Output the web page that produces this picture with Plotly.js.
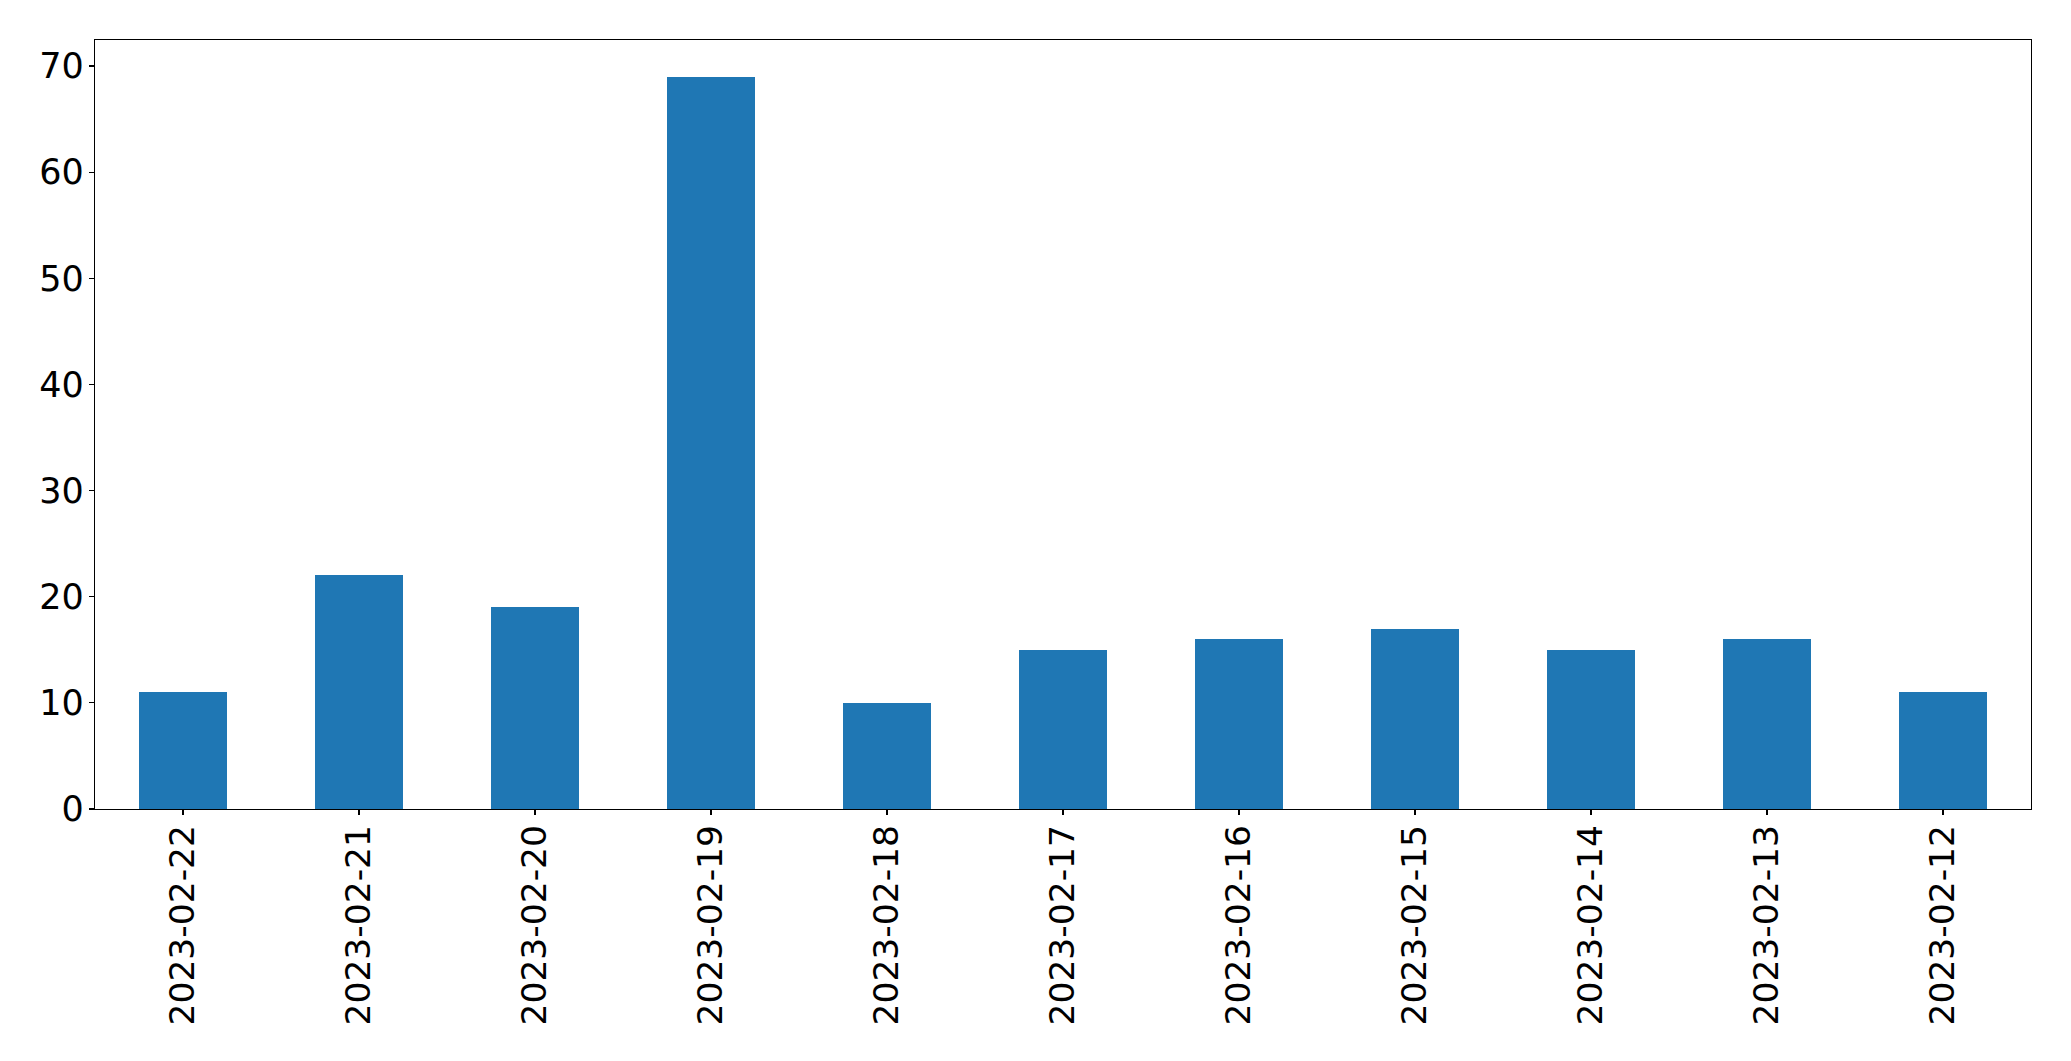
<!DOCTYPE html>
<html>
<head>
<meta charset="utf-8">
<script src="https://cdn.plot.ly/plotly-3.0.1.min.js"></script>
<style>
  html, body { margin: 0; padding: 0; background: #ffffff; }
  #chart { width: 2071px; height: 1061px; }
</style>
</head>
<body>
<div id="chart"></div>
<script>
const dates = ["2023-02-22", "2023-02-21", "2023-02-20", "2023-02-19", "2023-02-18", "2023-02-17",
               "2023-02-16", "2023-02-15", "2023-02-14", "2023-02-13", "2023-02-12"];
const counts = [11, 22, 19, 69, 10, 15, 16, 17, 15, 16, 11];
const yTicks = [0, 10, 20, 30, 40, 50, 60, 70];

const trace = {
  type: "bar",
  x: dates,
  y: counts,
  width: 0.5,
  marker: { color: "#1f77b4", line: { width: 0 } },
  hoverinfo: "x+y"
};

const fontFamily = "DejaVu Sans, sans-serif";

const layout = {
  width: 2071,
  height: 1061,
  paper_bgcolor: "#ffffff",
  plot_bgcolor: "#ffffff",
  margin: { l: 94.5, r: 39.5, t: 39.5, b: 251.5, pad: 0 },
  showlegend: false,
  bargap: 0,
  xaxis: {
    type: "category",
    range: [-0.5, dates.length - 0.5],
    showgrid: false,
    zeroline: false,
    showline: true,
    linecolor: "#000000",
    linewidth: 1.2,
    mirror: true,
    ticks: "outside",
    ticklen: 5,
    tickwidth: 1.2,
    tickcolor: "#000000",
    tickangle: -90,
    ticklabelstandoff: -4,
    tickfont: { family: fontFamily, size: 34.5, color: "#000000" }
  },
  yaxis: {
    range: [0, 72.45],
    tickvals: yTicks,
    ticktext: yTicks.map(String),
    showgrid: false,
    zeroline: false,
    showline: true,
    linecolor: "#000000",
    linewidth: 1.2,
    mirror: true,
    ticks: "outside",
    ticklen: 5,
    tickwidth: 1.2,
    tickcolor: "#000000",
    ticklabelstandoff: -2,
    tickfont: { family: fontFamily, size: 35, color: "#000000" }
  }
};

Plotly.newPlot("chart", [trace], layout, { staticPlot: true, displayModeBar: false });
</script>
</body>
</html>
